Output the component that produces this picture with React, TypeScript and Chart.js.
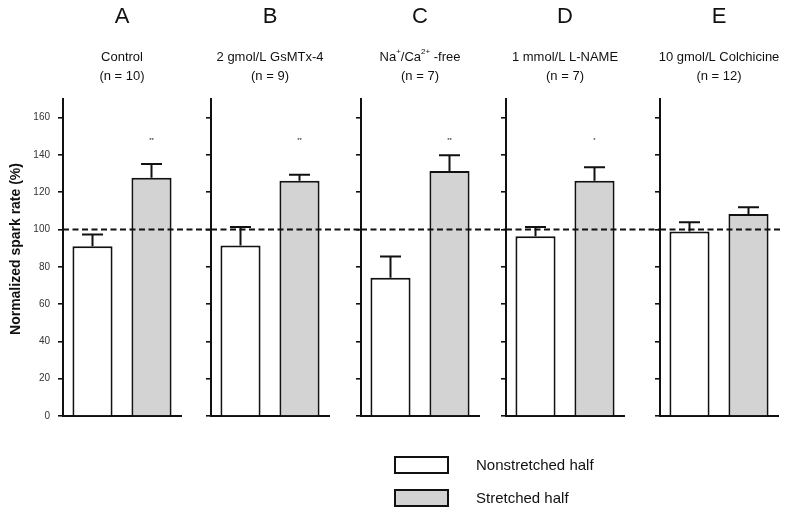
import React, { useEffect, useRef } from 'react';
import { Chart, registerables } from 'chart.js';

Chart.register(...registerables);

// ---------- data ----------
const panelLetters = ['A', 'B', 'C', 'D', 'E'];
const conditions = ['Control', '2 gmol/L GsMTx-4', 'Na^{+}/Ca^{2+} -free', '1 mmol/L L-NAME', '10 gmol/L Colchicine'];
const sampleSizes = ['(n = 10)', '(n = 9)', '(n = 7)', '(n = 7)', '(n = 12)'];
const barLabels = ['Nonstretched half', 'Stretched half'];
const nonstretched = [91.0, 91.4, 74.2, 96.4, 98.9];
const nonstretchedErr = [6.4, 9.9, 11.4, 4.9, 5.0];
const stretched = [127.8, 126.2, 131.4, 126.2, 108.3];
const stretchedErr = [7.3, 3.2, 8.5, 7.2, 3.6];
const significance = ['**', '**', '**', '*', ''];
const significanceLevel = 148;
const referenceLevel = 100;
const yMin = 0;
const yMax = 170;
const yStep = 20;
const yTitle = 'Normalized spark rate (%)';

// ---------- layout / style ----------
const FONT = '"Liberation Sans", Arial, Helvetica, sans-serif';
const INK = '#111111';
const GRAY = '#d3d3d3';
const AXIS_X = [63, 211, 361, 506, 660];
const DASH_END = [211, 361, 506, 660, 783];
const PLOT_W = 118;
const PLOT_TOP = 99;
const PLOT_BOTTOM = 416;
const FIG_W = 800;
const FIG_H = 516;
const LINE_W = 2;

function drawRich(ctx: CanvasRenderingContext2D, text: string, cx: number, cy: number, size: number) {
  const segs: { t: string; sup: boolean }[] = [];
  const re = /\^\{([^}]*)\}/g;
  let last = 0;
  let m: RegExpExecArray | null;
  while ((m = re.exec(text)) !== null) {
    if (m.index > last) segs.push({ t: text.slice(last, m.index), sup: false });
    segs.push({ t: m[1], sup: true });
    last = m.index + m[0].length;
  }
  if (last < text.length) segs.push({ t: text.slice(last), sup: false });
  const supSize = Math.round(size * 0.62);
  let total = 0;
  const widths = segs.map((s) => {
    ctx.font = `${s.sup ? supSize : size}px ${FONT}`;
    const w = ctx.measureText(s.t).width;
    total += w;
    return w;
  });
  let x = cx - total / 2;
  ctx.textAlign = 'left';
  segs.forEach((s, i) => {
    ctx.font = `${s.sup ? supSize : size}px ${FONT}`;
    ctx.fillText(s.t, x, s.sup ? cy - size * 0.42 : cy);
    x += widths[i];
  });
}

function Panel({ index }: { index: number }) {
  const ref = useRef<HTMLCanvasElement>(null);
  const isFirst = index === 0;
  const axisW = isFirst ? AXIS_X[0] : 15;
  const left = AXIS_X[index] - axisW;
  const rightPad = DASH_END[index] - (AXIS_X[index] + PLOT_W) + 4;
  const width = axisW + PLOT_W + rightPad;

  useEffect(() => {
    if (!ref.current) return;
    const errs = [nonstretchedErr[index], stretchedErr[index]];
    const dashLen = DASH_END[index] - AXIS_X[index];

    const extras = {
      id: 'panelExtras',
      afterDatasetsDraw(chart: any) {
        const { ctx, chartArea, scales } = chart;
        const y = scales.y;
        const meta = chart.getDatasetMeta(0);
        const vals = chart.data.datasets[0].data as number[];
        ctx.save();
        ctx.strokeStyle = INK;
        ctx.lineWidth = LINE_W;
        meta.data.forEach((el: any, j: number) => {
          const yTop = y.getPixelForValue(vals[j]);
          const yE = y.getPixelForValue(vals[j] + errs[j]);
          ctx.beginPath();
          ctx.moveTo(el.x, yTop);
          ctx.lineTo(el.x, yE);
          ctx.moveTo(el.x - 10.5, yE);
          ctx.lineTo(el.x + 10.5, yE);
          ctx.stroke();
        });
        // significance marks
        if (significance[index]) {
          const el = meta.data[1];
          ctx.fillStyle = INK;
          ctx.font = `6px ${FONT}`;
          ctx.textAlign = 'center';
          ctx.textBaseline = 'middle';
          ctx.fillText(significance[index], el.x, y.getPixelForValue(significanceLevel));
        }
        // dashed reference line
        const yRef = y.getPixelForValue(referenceLevel);
        ctx.setLineDash([6, 3.5]);
        ctx.lineWidth = 1.9;
        ctx.beginPath();
        ctx.moveTo(chartArea.left, yRef);
        ctx.lineTo(chartArea.left + dashLen, yRef);
        ctx.stroke();
        ctx.restore();
      },
      afterDraw(chart: any) {
        const { ctx, chartArea } = chart;
        const cx = (chartArea.left + chartArea.right) / 2;
        ctx.save();
        ctx.fillStyle = INK;
        ctx.textBaseline = 'middle';
        ctx.textAlign = 'center';
        ctx.font = `22px ${FONT}`;
        ctx.fillText(panelLetters[index], cx, 17);
        drawRich(ctx, conditions[index], cx, 57, 13);
        ctx.textAlign = 'center';
        ctx.font = `13px ${FONT}`;
        ctx.fillText(sampleSizes[index], cx, 76);
        if (isFirst) {
          ctx.translate(16, 249);
          ctx.rotate(-Math.PI / 2);
          ctx.font = `bold 14px ${FONT}`;
          ctx.textAlign = 'center';
          ctx.fillText(yTitle, 0, 0);
        }
        ctx.restore();
      },
    };

    const chart = new Chart(ref.current, {
      type: 'bar',
      data: {
        labels: barLabels,
        datasets: [
          {
            data: [nonstretched[index], stretched[index]],
            backgroundColor: ['#ffffff', GRAY],
            borderColor: INK,
            borderWidth: LINE_W,
            barPercentage: 0.68,
            categoryPercentage: 1,
          },
        ],
      },
      options: {
        responsive: false,
        animation: false,
        devicePixelRatio: 1,
        layout: { padding: { left: 0, right: rightPad, top: PLOT_TOP, bottom: FIG_H - PLOT_BOTTOM } },
        plugins: { legend: { display: false }, tooltip: { enabled: false }, title: { display: false } },
        scales: {
          x: {
            type: 'category',
            grid: { display: false, drawTicks: false },
            ticks: { display: false },
            border: { display: true, color: INK, width: LINE_W },
            afterFit: (s: any) => {
              s.height = 0;
            },
          },
          y: {
            min: yMin,
            max: yMax,
            ticks: {
              stepSize: yStep,
              includeBounds: false,
              display: isFirst,
              font: { family: FONT, size: 10 },
              color: '#333333',
              padding: 8,
            },
            grid: { display: true, drawOnChartArea: false, drawTicks: true, tickLength: 5, color: INK, lineWidth: 1.6 },
            border: { display: true, color: INK, width: LINE_W },
            afterFit: (s: any) => {
              s.width = axisW;
            },
          },
        },
      },
      plugins: [extras],
    } as any);
    return () => chart.destroy();
  }, [index]);

  return (
    <canvas
      ref={ref}
      width={width}
      height={FIG_H}
      style={{ position: 'absolute', left, top: 0, width, height: FIG_H }}
    />
  );
}

export default function App() {
  const legendFill = ['#ffffff', GRAY];
  const legendTop = [456, 489];
  return (
    <div style={{ position: 'absolute', left: 0, top: 0, width: FIG_W, height: FIG_H, background: '#ffffff', overflow: 'hidden' }}>
      {panelLetters.map((_, i) => (
        <Panel key={i} index={i} />
      ))}
      {barLabels.map((lab, i) => (
        <React.Fragment key={lab}>
          <div
            style={{
              position: 'absolute',
              left: 394,
              top: legendTop[i],
              width: 55,
              height: 18,
              boxSizing: 'border-box',
              border: `2px solid ${INK}`,
              background: legendFill[i],
            }}
          />
          <div
            style={{
              position: 'absolute',
              left: 476,
              top: legendTop[i] - 2,
              height: 22,
              lineHeight: '22px',
              fontSize: 15,
              fontFamily: FONT,
              color: INK,
              whiteSpace: 'nowrap',
            }}
          >
            {lab}
          </div>
        </React.Fragment>
      ))}
    </div>
  );
}
